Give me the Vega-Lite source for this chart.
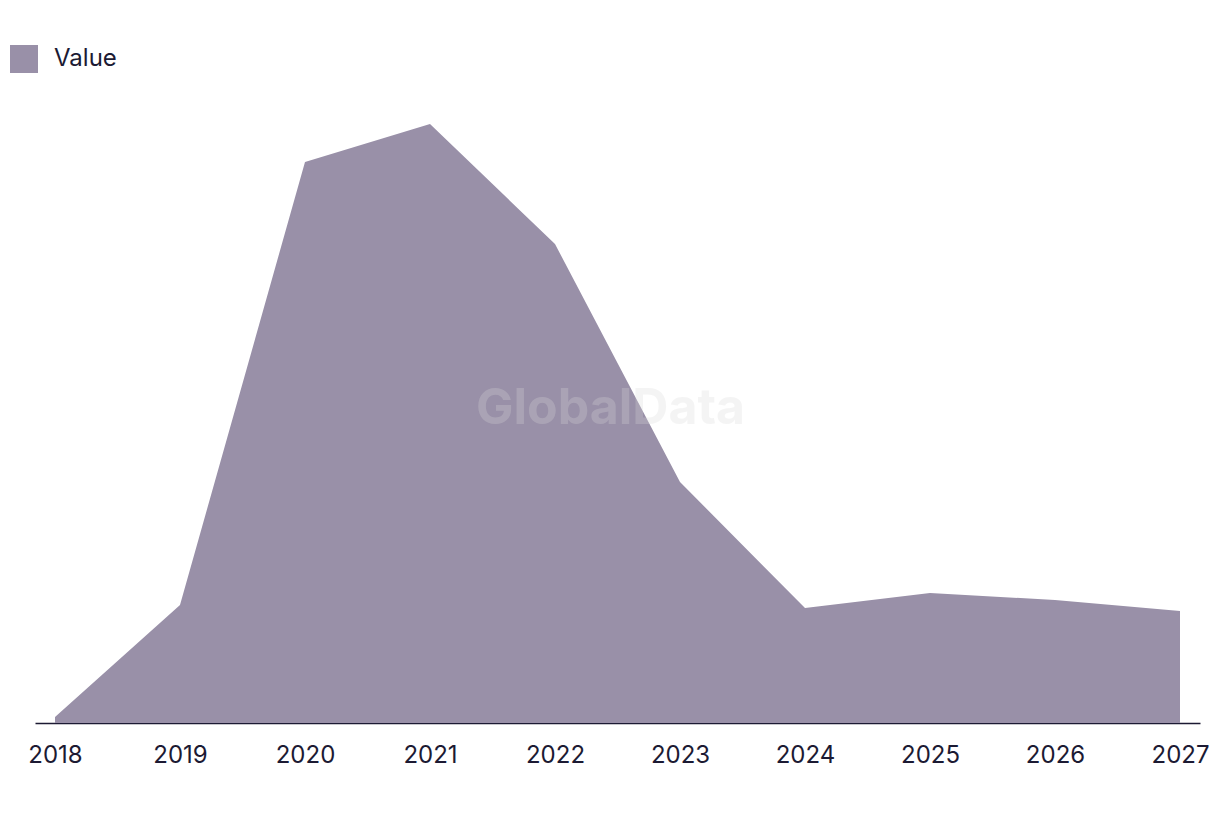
{
  "$schema": "https://vega.github.io/schema/vega-lite/v6.json",
  "autosize": {"type": "none"},
  "width": 1165,
  "height": 623,
  "padding": {"left": 35, "right": 20, "top": 100, "bottom": 93},
  "background": "white",
  "config": {"view": {"stroke": null}, "font": "Inter"},
  "data": {
    "values": [
      {"year": "2018", "value": 0.6, "series": "Value"},
      {"year": "2019", "value": 11.8, "series": "Value"},
      {"year": "2020", "value": 56.1, "series": "Value"},
      {"year": "2021", "value": 59.9, "series": "Value"},
      {"year": "2022", "value": 47.9, "series": "Value"},
      {"year": "2023", "value": 24.1, "series": "Value"},
      {"year": "2024", "value": 11.5, "series": "Value"},
      {"year": "2025", "value": 13.0, "series": "Value"},
      {"year": "2026", "value": 12.3, "series": "Value"},
      {"year": "2027", "value": 11.2, "series": "Value"}
    ]
  },
  "layer": [
    {
      "mark": {"type": "area", "interpolate": "linear"},
      "encoding": {
        "x": {
          "field": "year", "type": "ordinal",
          "scale": {"type": "point", "padding": 0.16},
          "axis": {
            "title": null, "labelAngle": 0, "ticks": false, "grid": false,
            "domainColor": "#1c1a33", "domainWidth": 1.5,
            "labelFontSize": 24, "labelColor": "#1c1a33", "labelPadding": 20,
            "labelFont": "Inter"
          }
        },
        "y": {
          "field": "value", "type": "quantitative",
          "scale": {"domain": [0, 62.3], "nice": false, "zero": true},
          "axis": null
        },
        "color": {
          "field": "series", "type": "nominal",
          "scale": {"range": ["#9990a8"]},
          "legend": {
            "title": null, "orient": "none", "legendX": -25, "legendY": -55,
            "symbolType": "square", "symbolSize": 784, "symbolStrokeWidth": 0,
            "symbolOpacity": 1,
            "labelFontSize": 24, "labelColor": "#1c1a33", "labelFont": "Inter",
            "labelOffset": 16
          }
        }
      }
    },
    {
      "data": {"values": [{"t": "GlobalData"}]},
      "mark": {
        "type": "text", "font": "Inter", "fontWeight": "bold", "fontSize": 50,
        "color": "#d9d9d9", "opacity": 0.27, "align": "center", "baseline": "middle",
        "x": {"expr": "width/2 - 7"}, "y": {"expr": "height/2 - 3"}
      },
      "encoding": {"text": {"field": "t"}}
    }
  ]
}
